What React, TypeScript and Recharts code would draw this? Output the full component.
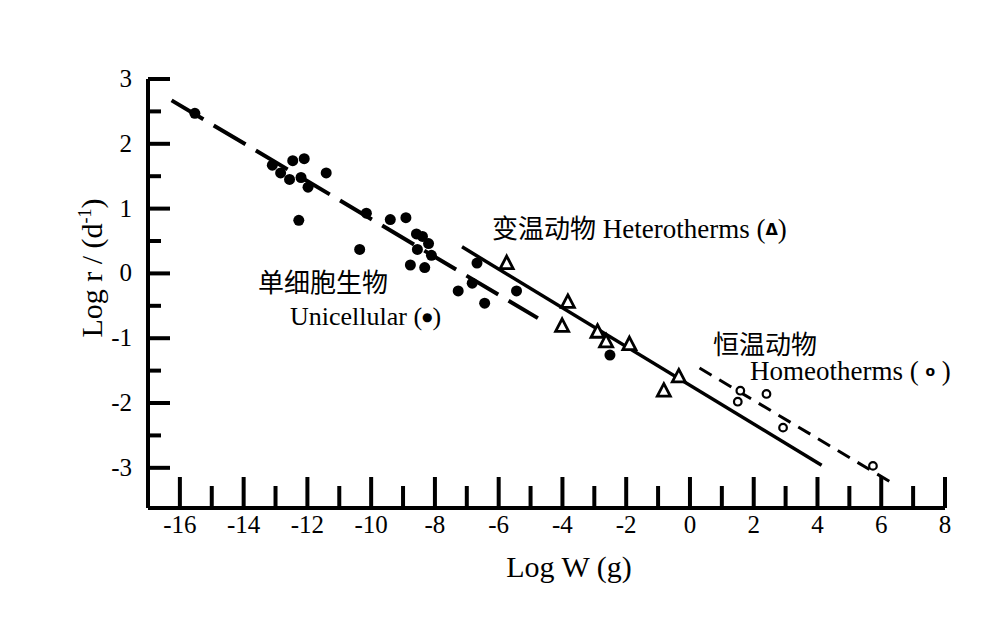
import React from 'react';
import { ScatterChart, Scatter, XAxis, YAxis } from 'recharts';

// log body weight (g) and log growth rate r (per day)
const uniW = [-15.53, -13.1, -12.46, -12.1, -12.84, -12.56, -12.2, -11.98, -11.41, -12.27, -10.15, -9.4, -8.91, -10.36, -8.58, -8.39, -8.2, -8.55, -8.11, -8.77, -8.32, -7.27, -6.83, -6.68, -6.44, -5.44, -2.51];
const uniR = [2.47, 1.67, 1.74, 1.77, 1.55, 1.45, 1.48, 1.33, 1.55, 0.82, 0.93, 0.83, 0.86, 0.37, 0.61, 0.57, 0.46, 0.37, 0.28, 0.13, 0.09, -0.27, -0.15, 0.16, -0.46, -0.27, -1.26];

const heteroW = [-5.75, -3.83, -4.01, -2.9, -2.63, -1.9, -0.35, -0.82];
const heteroR = [0.16, -0.44, -0.81, -0.9, -1.05, -1.09, -1.59, -1.81];

const homeoW = [1.58, 1.5, 2.4, 2.92, 5.74];
const homeoR = [-1.81, -1.98, -1.86, -2.38, -2.97];

// fitted lines (end points)
const uniFitW = [-16.26, -4.77];
const uniFitR = [2.67, -0.69];
const heteroFitW = [-7.15, 4.13];
const heteroFitR = [0.41, -2.96];
const homeoFitW = [0.3, 6.36];
const homeoFitR = [-1.46, -3.24];

const xTicks = [-16, -15, -14, -13, -12, -11, -10, -9, -8, -7, -6, -5, -4, -3, -2, -1, 0, 1, 2, 3, 4, 5, 6, 7, 8];
const yTicks = [-3, -2.5, -2, -1.5, -1, -0.5, 0, 0.5, 1, 1.5, 2, 2.5, 3];

const toPts = (w: number[], r: number[]) => w.map((v, i) => ({ w: v, r: r[i] }));

const SERIF = '"Liberation Serif", "Times New Roman", serif';
const CJK = '"Noto Sans CJK SC", sans-serif';

const XTick = (props: any) => {
  const { x, y, payload } = props;
  const major = payload.value % 2 === 0;
  return (
    <g>
      <line x1={x} x2={x} y1={y} y2={y - (major ? 31 : 22)} stroke="#000" strokeWidth={4} />
      {major && (
        <text x={x} y={y + 25} textAnchor="middle" fontFamily={SERIF} fontSize={25} fill="#000">
          {payload.value}
        </text>
      )}
    </g>
  );
};

const YTick = (props: any) => {
  const { x, y, payload } = props;
  const major = Number.isInteger(payload.value);
  return (
    <g>
      <line x1={x} x2={x + (major ? 22 : 13)} y1={y} y2={y} stroke="#000" strokeWidth={4} />
      {major && (
        <text x={x - 16} y={y + 8} textAnchor="end" fontFamily={SERIF} fontSize={25} fill="#000">
          {payload.value}
        </text>
      )}
    </g>
  );
};

const dot = (p: any) => <circle cx={p.cx} cy={p.cy} r={5.5} fill="#000" />;
const tri = (p: any) => (
  <path
    d={`M${p.cx},${p.cy - 7} L${p.cx + 6.5},${p.cy + 5.5} L${p.cx - 6.5},${p.cy + 5.5} Z`}
    fill="#fff"
    stroke="#000"
    strokeWidth={2.8}
    strokeLinejoin="miter"
  />
);
const ring = (p: any) => <circle cx={p.cx} cy={p.cy} r={3.8} fill="#fff" stroke="#000" strokeWidth={2.2} />;
const none = () => <g />;

export default function App() {
  return (
    <div style={{ position: 'absolute', left: 0, top: 0, width: 1000, height: 626, background: '#fff' }}>
      <ScatterChart width={1000} height={626} margin={{ top: 79, right: 55, bottom: 78, left: 88 }}>
        <XAxis
          type="number"
          dataKey="w"
          domain={[-17, 8]}
          ticks={xTicks}
          interval={0}
          allowDataOverflow
          height={40}
          axisLine={{ stroke: '#000', strokeWidth: 4 }}
          tickLine={false}
          tickSize={0}
          tickMargin={0}
          tick={<XTick />}
        />
        <YAxis
          type="number"
          dataKey="r"
          domain={[-3.62, 3]}
          ticks={yTicks}
          interval={0}
          allowDataOverflow
          width={60}
          axisLine={{ stroke: '#000', strokeWidth: 4 }}
          tickLine={false}
          tickSize={0}
          tickMargin={0}
          tick={<YTick />}
        />
        <Scatter
          data={toPts(uniFitW, uniFitR)}
          line={{ stroke: '#000', strokeWidth: 4, strokeDasharray: '37 12' }}
          shape={none}
          isAnimationActive={false}
        />
        <Scatter
          data={toPts(heteroFitW, heteroFitR)}
          line={{ stroke: '#000', strokeWidth: 3.5 }}
          shape={none}
          isAnimationActive={false}
        />
        <Scatter
          data={toPts(homeoFitW, homeoFitR)}
          line={{ stroke: '#000', strokeWidth: 3, strokeDasharray: '14 9' }}
          shape={none}
          isAnimationActive={false}
        />
        <Scatter data={toPts(uniW, uniR)} shape={dot} isAnimationActive={false} />
        <Scatter data={toPts(heteroW, heteroR)} shape={tri} isAnimationActive={false} />
        <Scatter data={toPts(homeoW, homeoR)} shape={ring} isAnimationActive={false} />
      </ScatterChart>
      <svg
        width={1000}
        height={626}
        style={{ position: 'absolute', left: 0, top: 0, pointerEvents: 'none' }}
      >
        <text transform="translate(102,268) rotate(-90)" textAnchor="middle" fontFamily={SERIF} fontSize={30} fill="#000">
          Log r / (d<tspan dy={-11} fontSize={18}>-1</tspan>
          <tspan dy={11}>)</tspan>
        </text>
        <text x={569} y={577} textAnchor="middle" fontFamily={SERIF} fontSize={30} fill="#000">
          Log W (g)
        </text>

        <text x={258} y={292} fontFamily={CJK} fontSize={26} fill="#000">单细胞生物</text>
        <text x={290} y={325} fontFamily={SERIF} fontSize={26} fill="#000">
          Unicellular (<tspan fontFamily="DejaVu Sans" fontSize={12} dy={-4}>●</tspan>
          <tspan dy={4}>)</tspan>
        </text>

        <text x={492} y={238} fill="#000">
          <tspan fontFamily={CJK} fontSize={26}>变温动物</tspan>
          <tspan fontFamily={SERIF} fontSize={27}> Heterotherms (</tspan>
          <tspan fontFamily="DejaVu Sans" fontWeight="bold" fontSize={16} dy={-3}>Δ</tspan>
          <tspan fontFamily={SERIF} fontSize={27} dy={3}>)</tspan>
        </text>

        <text x={713} y={354} fontFamily={CJK} fontSize={26} fill="#000">恒温动物</text>
        <text x={750} y={380} fontFamily={SERIF} fontSize={27} fill="#000">
          Homeotherms ( <tspan fontFamily="DejaVu Sans" fontWeight="bold" fontSize={14} dy={-4}>o</tspan>
          <tspan dy={4}> )</tspan>
        </text>
      </svg>
    </div>
  );
}
